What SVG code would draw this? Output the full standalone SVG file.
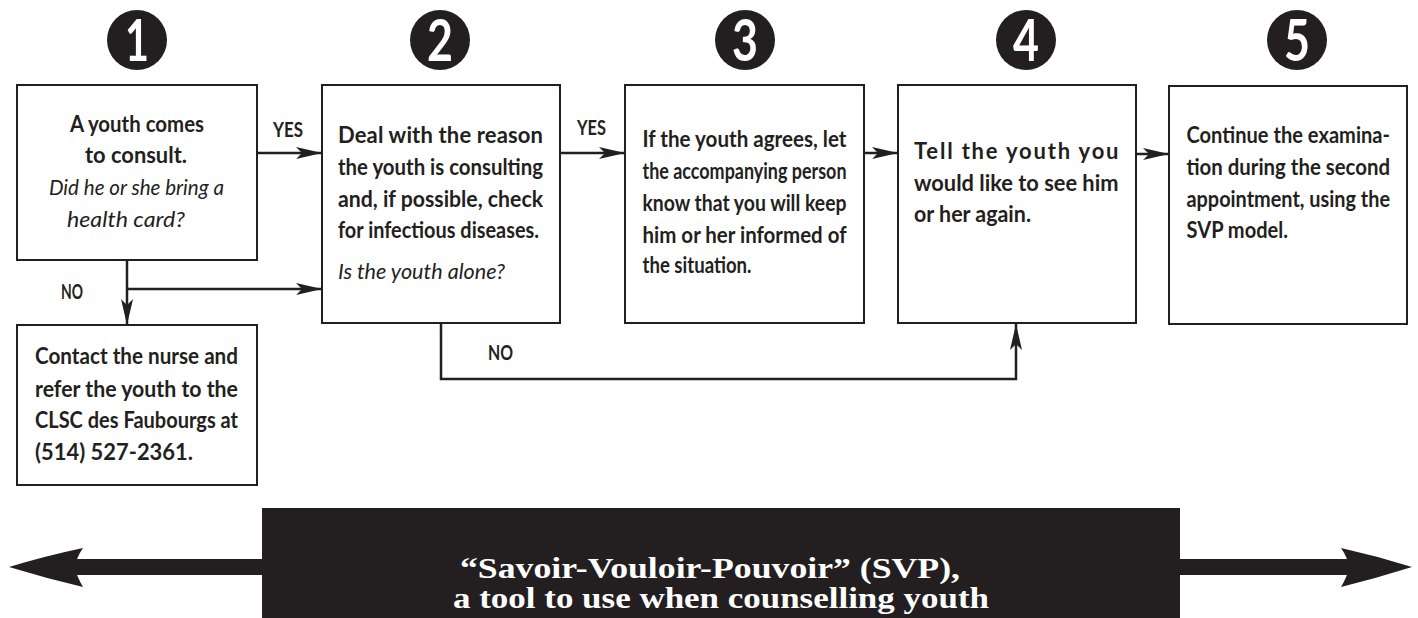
<svg xmlns="http://www.w3.org/2000/svg" width="1418" height="618" viewBox="0 0 1418 618">
<defs>
<style>
.box{fill:#fff;stroke:#231f20;stroke-width:2}
.b{font-family:Lato,"Liberation Sans",sans-serif;font-weight:bold;font-size:22px;fill:#231f20}
.i{font-family:Lato,"Liberation Sans",sans-serif;font-style:italic;font-size:22px;fill:#231f20}
.lbl{font-family:Lato,"Liberation Sans",sans-serif;font-weight:bold;font-size:21px;fill:#231f20}
.num{font-family:Lato,"Liberation Sans",sans-serif;font-weight:bold;font-size:57px;fill:#fff;text-anchor:middle}
.dot{fill:#231f20}
.con{fill:none;stroke:#231f20;stroke-width:2.5}
.ban{font-family:"Liberation Serif",serif;font-weight:bold;font-size:30px;fill:#fff;text-anchor:middle}
</style>
<marker id="ah" viewBox="0 0 26 12" refX="26" refY="6" markerWidth="26" markerHeight="12" markerUnits="userSpaceOnUse" orient="auto">
<path d="M0,0 L26,6 L0,12 L6,6 Z" fill="#231f20"/>
</marker>
</defs>
<rect width="1418" height="618" fill="#fff"/>

<g id="step-numbers">
<circle class="dot" cx="137" cy="40" r="30"/><text class="num" x="137" y="61" textLength="24" lengthAdjust="spacingAndGlyphs">1</text>
<circle class="dot" cx="440" cy="40" r="30"/><text class="num" x="440" y="61" textLength="26" lengthAdjust="spacingAndGlyphs">2</text>
<circle class="dot" cx="745" cy="40" r="30"/><text class="num" x="745" y="61" textLength="26" lengthAdjust="spacingAndGlyphs">3</text>
<circle class="dot" cx="1026" cy="40" r="30"/><text class="num" x="1026" y="61" textLength="26" lengthAdjust="spacingAndGlyphs">4</text>
<circle class="dot" cx="1297" cy="40" r="30"/><text class="num" x="1297" y="61" textLength="26" lengthAdjust="spacingAndGlyphs">5</text>
</g>

<g id="connectors">
<line class="con" x1="257" y1="153" x2="322" y2="153" marker-end="url(#ah)"/>
<line class="con" x1="560" y1="153" x2="625" y2="153" marker-end="url(#ah)"/>
<line class="con" x1="864" y1="153" x2="898" y2="153" marker-end="url(#ah)"/>
<line class="con" x1="1136" y1="154" x2="1169" y2="154" marker-end="url(#ah)"/>
<line class="con" x1="127" y1="260" x2="127" y2="325" marker-end="url(#ah)"/>
<line class="con" x1="127" y1="289" x2="322" y2="289" marker-end="url(#ah)"/>
<polyline class="con" points="441,323 441,379 1016,379 1016,324" marker-end="url(#ah)"/>
<text class="lbl" x="273" y="137" textLength="30" lengthAdjust="spacingAndGlyphs">YES</text>
<text class="lbl" x="577" y="135" textLength="29" lengthAdjust="spacingAndGlyphs">YES</text>
<text class="lbl" x="61" y="299" textLength="22" lengthAdjust="spacingAndGlyphs">NO</text>
<text class="lbl" x="488" y="360" textLength="25" lengthAdjust="spacingAndGlyphs">NO</text>
</g>

<g id="node1">
<rect class="box" x="17" y="85" width="240" height="175"/>
<text class="b" x="70" y="132" textLength="134" lengthAdjust="spacingAndGlyphs">A youth comes</text>
<text class="b" x="85" y="163" textLength="102" lengthAdjust="spacingAndGlyphs">to consult.</text>
<text class="i" x="49" y="195" textLength="175" lengthAdjust="spacingAndGlyphs">Did he or she bring a</text>
<text class="i" x="67" y="227" textLength="118" lengthAdjust="spacingAndGlyphs">health card?</text>
</g>

<g id="node2">
<rect class="box" x="322" y="85" width="238" height="238"/>
<text class="b" x="338" y="143" textLength="205" lengthAdjust="spacing">Deal with the reason</text>
<text class="b" x="338" y="175" textLength="205" lengthAdjust="spacingAndGlyphs">the youth is consulting</text>
<text class="b" x="338" y="207" textLength="205" lengthAdjust="spacingAndGlyphs">and, if possible, check</text>
<text class="b" x="338" y="238" textLength="201" lengthAdjust="spacingAndGlyphs">for infectious diseases.</text>
<text class="i" x="338" y="279" textLength="167" lengthAdjust="spacingAndGlyphs">Is the youth alone?</text>
</g>

<g id="node3">
<rect class="box" x="625" y="85" width="239" height="238"/>
<text class="b" x="642.5" y="147" textLength="204" lengthAdjust="spacingAndGlyphs">If the youth agrees, let</text>
<text class="b" x="642.5" y="179" textLength="204" lengthAdjust="spacingAndGlyphs">the accompanying person</text>
<text class="b" x="642.5" y="211" textLength="204" lengthAdjust="spacingAndGlyphs">know that you will keep</text>
<text class="b" x="642.5" y="243" textLength="204" lengthAdjust="spacingAndGlyphs">him or her informed of</text>
<text class="b" x="642.5" y="273" textLength="109" lengthAdjust="spacingAndGlyphs">the situation.</text>
</g>

<g id="node4">
<rect class="box" x="898" y="85" width="238" height="238"/>
<text class="b" x="914" y="159" textLength="204.5" lengthAdjust="spacing">Tell the youth you</text>
<text class="b" x="914" y="191" textLength="204.5" lengthAdjust="spacingAndGlyphs">would like to see him</text>
<text class="b" x="914" y="222" textLength="117" lengthAdjust="spacingAndGlyphs">or her again.</text>
</g>

<g id="node5">
<rect class="box" x="1169" y="86" width="238" height="238"/>
<text class="b" x="1186.5" y="143" textLength="203.5" lengthAdjust="spacingAndGlyphs">Continue the examina-</text>
<text class="b" x="1186.5" y="175" textLength="203.5" lengthAdjust="spacingAndGlyphs">tion during the second</text>
<text class="b" x="1186.5" y="207" textLength="203.5" lengthAdjust="spacingAndGlyphs">appointment, using the</text>
<text class="b" x="1186.5" y="238" textLength="101.5" lengthAdjust="spacingAndGlyphs">SVP model.</text>
</g>

<g id="node6">
<rect class="box" x="17" y="325" width="240" height="160"/>
<text class="b" x="35" y="364" textLength="203" lengthAdjust="spacingAndGlyphs">Contact the nurse and</text>
<text class="b" x="35" y="397" textLength="203" lengthAdjust="spacingAndGlyphs">refer the youth to the</text>
<text class="b" x="35" y="428" textLength="203" lengthAdjust="spacingAndGlyphs">CLSC des Faubourgs at</text>
<text class="b" x="35" y="460" textLength="158" lengthAdjust="spacingAndGlyphs">(514) 527-2361.</text>
</g>

<g id="banner">
<path class="dot" d="M262,559 L77,559 Q80,552 83,548 Q45,556 9,567 Q45,578 83,587 Q80,582 77,575 L262,575 Z"/>
<path class="dot" d="M1180,559 L1347,559 Q1344,552 1341,548 Q1377,556 1412,567 Q1377,578 1341,587 Q1344,582 1347,575 L1180,575 Z"/>
<rect class="dot" x="262" y="508" width="918" height="110"/>
<text class="ban" x="710" y="578" textLength="500" lengthAdjust="spacingAndGlyphs">“Savoir-Vouloir-Pouvoir” (SVP),</text>
<text class="ban" x="721" y="608" textLength="536" lengthAdjust="spacingAndGlyphs">a tool to use when counselling youth</text>
</g>
</svg>
